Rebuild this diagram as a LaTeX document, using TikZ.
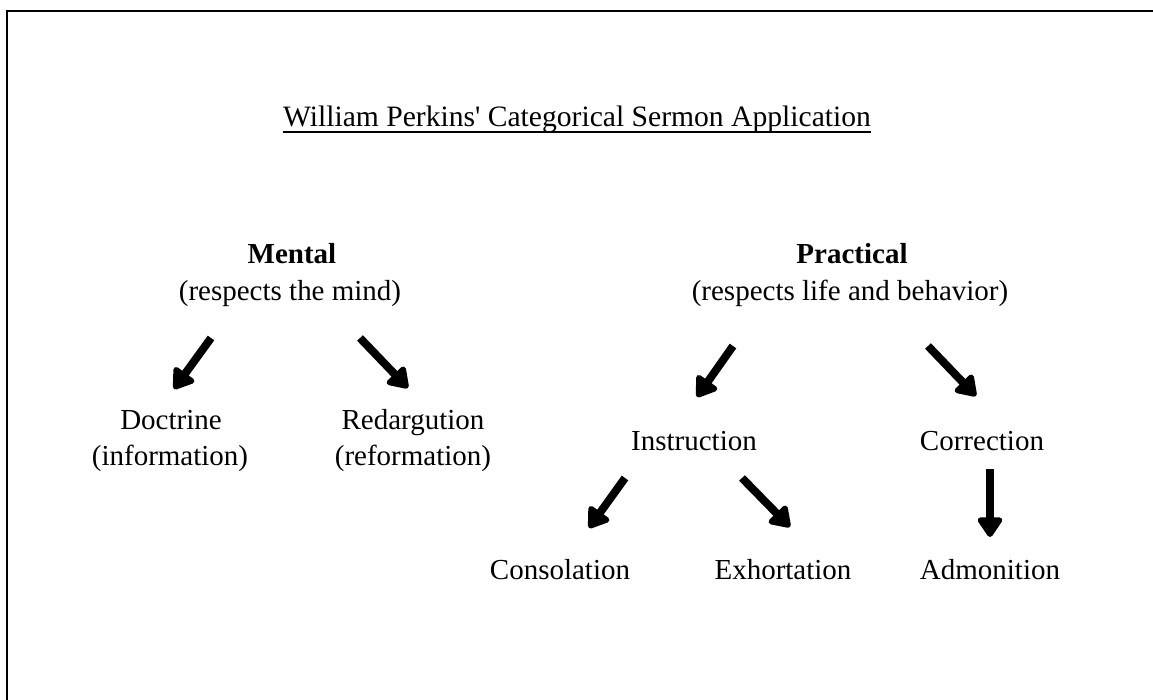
\documentclass[tikz,border=0pt]{standalone}
\usepackage{fontspec}
\setmainfont{Liberation Serif}
\newfontfamily\titlefont{Liberation Serif}
\usetikzlibrary{arrows.meta,positioning}

\tikzset{
  txt/.style={inner sep=0pt, text height=10pt, text depth=3pt, font=\fontsize{14.5}{17}\selectfont},
  head/.style={txt, font=\fontsize{14.5}{17}\selectfont\bfseries},
  bigarrow/.style={line width=4pt, -{Triangle[length=11pt,width=14pt,round]}}
}

\begin{document}
\begin{tikzpicture}[x=0.5pt, y=-0.5pt]
    \clip (0,0) rectangle (1153,700);
    \draw[line width=1.1pt] (7,11) rectangle (1200,760);

    \node[txt, font=\fontsize{14.8}{17}\titlefont] (title) at (577,120) {William Perkins' Categorical Sermon Application};
    \draw[line width=0.7pt] ([yshift=-2.5pt]title.base west) -- ([yshift=-2.5pt]title.base east);

    \node[head] (mental) at (292,257) {Mental};
    \node[txt]  (mind)   at (290,294) {(respects the mind)};
    \node[head] (pract)  at (852,257) {Practical};
    \node[txt]  (life)   at (850,294) {(respects life and behavior)};

    \node[txt] (doct)  at (171,423) {Doctrine};
    \node[txt] (info)  at (170,459) {(information)};
    \node[txt] (redar) at (413,423) {Redargution};
    \node[txt] (refor) at (413,459) {(reformation)};

    \node[txt] (instr) at (694,444) {Instruction};
    \node[txt] (corr)  at (982,444) {Correction};
    \node[txt] (cons)  at (560,573) {Consolation};
    \node[txt] (exh)   at (783,573) {Exhortation};
    \node[txt] (adm)   at (990,573) {Admonition};

    % arrow ends
    \coordinate (m1) at (211,338);  \coordinate (m2) at (174,389);
    \coordinate (m3) at (360,338);  \coordinate (m4) at (408,388);
    \coordinate (p1) at (733,346);  \coordinate (p2) at (697,397);
    \coordinate (p3) at (928,346);  \coordinate (p4) at (976,396);
    \coordinate (i1) at (625,478);  \coordinate (i2) at (589,528);
    \coordinate (i3) at (742,478);  \coordinate (i4) at (790,527);
    \coordinate (c1) at (990,469);  \coordinate (c2) at (990,537);

    \draw[bigarrow] (m1) -- (m2);
    \draw[bigarrow] (m3) -- (m4);
    \draw[bigarrow] (p1) -- (p2);
    \draw[bigarrow] (p3) -- (p4);
    \draw[bigarrow] (i1) -- (i2);
    \draw[bigarrow] (i3) -- (i4);
    \draw[bigarrow] (c1) -- (c2);
\end{tikzpicture}
\end{document}
